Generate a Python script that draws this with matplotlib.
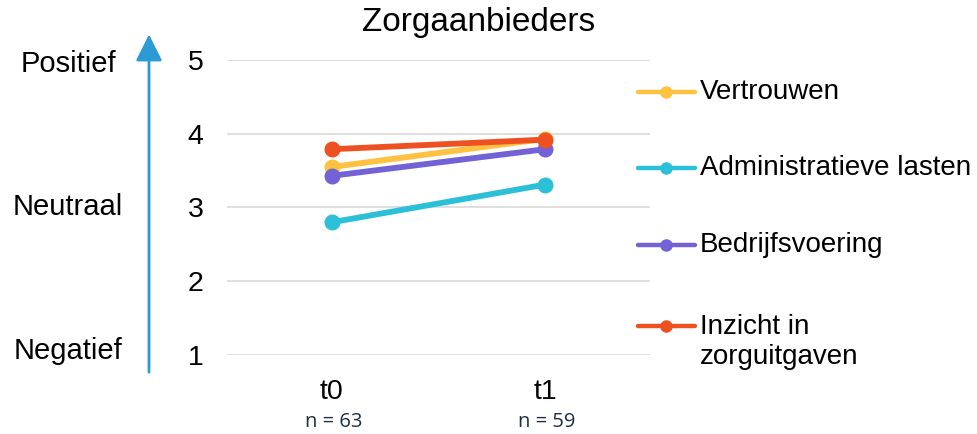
#!/usr/bin/env python3
# -*- coding: utf-8 -*-

import matplotlib.pyplot as plt
import matplotlib.patches as mpatches
import matplotlib.transforms as mtransforms

# ============================================================
# DATA
# ============================================================
TITLE = "Zorgaanbieders"
MOMENTS = ["t0", "t1"]
N_RESP = ["n = 63", "n = 59"]

SERIES = ["Vertrouwen", "Administratieve lasten", "Bedrijfsvoering",
          "Inzicht in\nzorguitgaven"]
VERTROUWEN = [3.55, 3.93]
ADMIN_LASTEN = [2.80, 3.31]
BEDRIJFSVOERING = [3.43, 3.79]
INZICHT = [3.79, 3.92]

SCALE_LABELS = ["Negatief", "Neutraal", "Positief"]
SCALE_VALUES = [1.06, 3.01, 4.95]
Y_TICKS = [1, 2, 3, 4, 5]

# ============================================================
# STYLE
# ============================================================
COLORS = ["#FFC240", "#2CC0D8", "#7262D6", "#EE5121"]
ARROW_COLOR = "#2B9AD5"
GRID_COLOR = "#D9D9D9"
FONT = "Liberation Sans"
FS_LABEL = 21        # left scale labels
FS_LEG = 20          # legend
FS_TICK = 20.5
FS_TITLE = 24
LW = 4.2
MS = 10.5

plt.rcParams["font.family"] = [FONT, "DejaVu Sans"]


def main():
    fig = plt.figure(figsize=(9.77, 4.34), dpi=100)
    ax = fig.add_axes([0.2323, 0.182, 0.4330, 0.6798])

    values = [VERTROUWEN, ADMIN_LASTEN, BEDRIJFSVOERING, INZICHT]
    x = list(range(len(MOMENTS)))
    for vals, color in zip(values, COLORS):
        ax.plot(x, vals, color=color, lw=LW, marker="o", ms=MS,
                solid_capstyle="round", zorder=3)

    ax.set_xlim(-0.493, 1.493)
    ax.set_ylim(1, 5)
    ax.set_yticks(Y_TICKS)
    ax.set_yticklabels([str(t) for t in Y_TICKS], fontsize=FS_TICK)
    ax.set_xticks(x)
    ax.set_xticklabels(MOMENTS, fontsize=FS_TICK)
    ax.tick_params(axis="both", length=0, colors="black")
    ax.tick_params(axis="y", pad=17)
    ax.tick_params(axis="x", pad=17)
    ax.grid(axis="y", color=GRID_COLOR, lw=1.2, zorder=0)
    for s in ax.spines.values():
        s.set_visible(False)

    # respondent counts under the moments
    trans = mtransforms.blended_transform_factory(ax.transData, ax.transAxes)
    for xi, n in zip(x, N_RESP):
        ax.text(xi + 0.01, -0.228, n, transform=trans, ha="center", va="center",
                fontsize=14.5, family=["Open Sans", "DejaVu Sans"], color="#1F2F3F")

    fig.text(479 / 977, 1 - 23 / 434, TITLE, ha="center", va="center",
             fontsize=FS_TITLE)

    # scale labels on the left
    for lab, v in zip(SCALE_LABELS, SCALE_VALUES):
        ax.annotate(lab, xy=(0, v), xycoords=("figure fraction", "data"),
                    xytext=(68, 0), textcoords="offset pixels",
                    ha="center", va="center", fontsize=FS_LABEL,
                    annotation_clip=False)

    # direction arrow
    fig.patches.append(mpatches.FancyArrowPatch(
        (0.1525, 0.136), (0.1525, 0.927), transform=fig.transFigure,
        arrowstyle="-|>,head_length=0.9,head_width=0.45",
        mutation_scale=18, color=ARROW_COLOR, lw=2))

    # legend drawn by hand, handles beside the plot
    leg_y = [0.892, 0.634, 0.373, 0.098]
    for lab, color, yy in zip(SERIES, COLORS, leg_y):
        ax.plot([0.9716, 1.106], [yy, yy], transform=ax.transAxes, color=color,
                lw=3.2, solid_capstyle="round", clip_on=False)
        ax.plot([1.0388], [yy], transform=ax.transAxes, color=color,
                marker="o", ms=8, clip_on=False)
        if "\n" in lab:
            ax.text(1.118, yy + 0.04, lab, transform=ax.transAxes, ha="left",
                    va="top", fontsize=FS_LEG, linespacing=1.2)
        else:
            ax.text(1.118, yy, lab, transform=ax.transAxes, ha="left",
                    va="center", fontsize=FS_LEG)

    fig.savefig("out.png", dpi=100)
    plt.close(fig)


if __name__ == "__main__":
    main()
